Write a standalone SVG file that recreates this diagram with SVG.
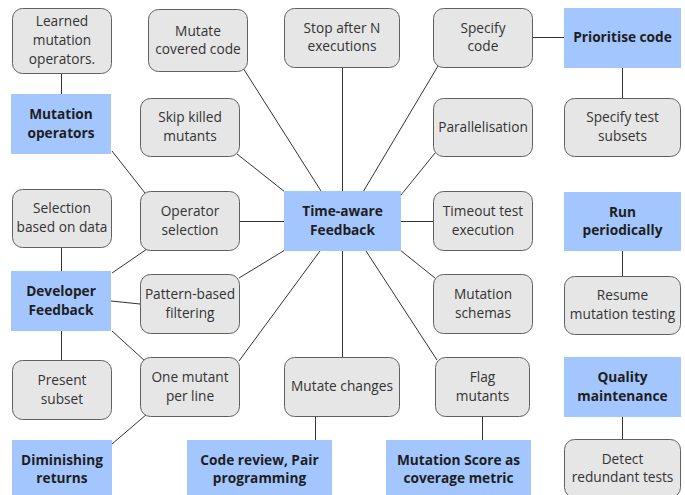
<svg xmlns="http://www.w3.org/2000/svg" width="685" height="495" viewBox="0 0 685 495">
<style>
.g rect{fill:#e6e6e6;stroke:#606060;stroke-width:1}
.b rect{fill:#a4c6ff;stroke:none}
text{font-family:"Open Sans","Noto Sans","Liberation Sans",sans-serif;font-size:13.7px;text-anchor:middle}
.g text{fill:#333}
.b text{fill:#1e1e1e;font-weight:bold}
#connectors line{stroke:#333;stroke-width:1}
</style>
<rect width="685" height="495" fill="#fff"/>
<g id="connectors">
<line x1="61.5" y1="73" x2="61.5" y2="94"/>
<line x1="112" y1="151" x2="145" y2="193"/>
<line x1="61.5" y1="247" x2="61.5" y2="271"/>
<line x1="112" y1="273" x2="147" y2="249"/>
<line x1="111" y1="301" x2="140" y2="304"/>
<line x1="112" y1="331" x2="145" y2="361"/>
<line x1="61.5" y1="331" x2="61.5" y2="360"/>
<line x1="147" y1="414" x2="112" y2="444"/>
<line x1="243" y1="68" x2="321" y2="191"/>
<line x1="237" y1="154" x2="285" y2="192"/>
<line x1="240" y1="221.5" x2="284" y2="221.5"/>
<line x1="239" y1="278" x2="285" y2="250"/>
<line x1="239" y1="361" x2="320" y2="251"/>
<line x1="342.5" y1="67" x2="342.5" y2="191"/>
<line x1="438" y1="66" x2="363" y2="192"/>
<line x1="435" y1="153" x2="401" y2="195"/>
<line x1="401" y1="221.5" x2="433" y2="221.5"/>
<line x1="400" y1="250" x2="435" y2="278"/>
<line x1="342.5" y1="251" x2="342.5" y2="357"/>
<line x1="366" y1="251" x2="437" y2="360"/>
<line x1="315.5" y1="416" x2="315.5" y2="440"/>
<line x1="482.5" y1="416" x2="482.5" y2="440"/>
<line x1="533" y1="37.5" x2="564" y2="37.5"/>
<line x1="622.5" y1="68" x2="622.5" y2="98"/>
<line x1="622.5" y1="251" x2="622.5" y2="276"/>
<line x1="622.5" y1="417" x2="622.5" y2="439"/>
</g>
<g id="learned" class="g"><rect x="12.5" y="8.5" width="99" height="65" rx="10"/><text x="62" y="26">Learned</text><text x="62" y="45">mutation</text><text x="62" y="64">operators.</text></g>
<g id="mutation-operators" class="b"><rect x="11" y="94" width="100" height="60"/><text x="61" y="119">Mutation</text><text x="61" y="138">operators</text></g>
<g id="mutate-covered" class="g"><rect x="148.5" y="9.5" width="99" height="62" rx="10"/><text x="198" y="35.5">Mutate</text><text x="198" y="54">covered code</text></g>
<g id="skip-killed" class="g"><rect x="140.5" y="98.5" width="99" height="58" rx="10"/><text x="190" y="122">Skip killed</text><text x="190" y="141">mutants</text></g>
<g id="selection-data" class="g"><rect x="12.5" y="189.5" width="99" height="58" rx="10"/><text x="62" y="213">Selection</text><text x="62" y="232">based on data</text></g>
<g id="operator-selection" class="g"><rect x="140.5" y="191.5" width="99" height="59" rx="10"/><text x="190" y="216">Operator</text><text x="190" y="235">selection</text></g>
<g id="developer-feedback" class="b"><rect x="11" y="271" width="100" height="60"/><text x="61" y="296">Developer</text><text x="61" y="315">Feedback</text></g>
<g id="pattern-filtering" class="g"><rect x="140.5" y="274.5" width="99" height="59" rx="10"/><text x="190" y="299">Pattern-based</text><text x="190" y="318">filtering</text></g>
<g id="present-subset" class="g"><rect x="12.5" y="360.5" width="99" height="59" rx="10"/><text x="62" y="385">Present</text><text x="62" y="404">subset</text></g>
<g id="one-mutant" class="g"><rect x="140.5" y="357.5" width="99" height="59" rx="10"/><text x="190" y="382">One mutant</text><text x="190" y="401">per line</text></g>
<g id="diminishing" class="b"><rect x="12" y="440" width="100" height="60"/><text x="62" y="465">Diminishing</text><text x="62" y="483">returns</text></g>
<g id="code-review" class="b"><rect x="187" y="440" width="145" height="60"/><text x="259.5" y="465">Code review, Pair</text><text x="259.5" y="483">programming</text></g>
<g id="stop-after" class="g"><rect x="284.5" y="8.5" width="115" height="59" rx="10"/><text x="342" y="33">Stop after N</text><text x="342" y="51">executions</text></g>
<g id="time-aware" class="b"><rect x="284" y="191" width="117" height="60"/><text x="342.5" y="216">Time-aware</text><text x="342.5" y="235">Feedback</text></g>
<g id="mutate-changes" class="g"><rect x="284.5" y="357.5" width="115" height="59" rx="10"/><text x="342" y="391">Mutate changes</text></g>
<g id="specify-code" class="g"><rect x="433.5" y="8.5" width="99" height="59" rx="10"/><text x="483" y="33">Specify</text><text x="483" y="51">code</text></g>
<g id="parallelisation" class="g"><rect x="433.5" y="98.5" width="99" height="58" rx="10"/><text x="483" y="132">Parallelisation</text></g>
<g id="timeout" class="g"><rect x="433.5" y="191.5" width="99" height="59" rx="10"/><text x="483" y="216">Timeout test</text><text x="483" y="235">execution</text></g>
<g id="schemas" class="g"><rect x="433.5" y="274.5" width="99" height="59" rx="10"/><text x="483" y="299">Mutation</text><text x="483" y="318">schemas</text></g>
<g id="flag-mutants" class="g"><rect x="435.5" y="357.5" width="94" height="59" rx="10"/><text x="482.5" y="382">Flag</text><text x="482.5" y="401">mutants</text></g>
<g id="mutation-score" class="b"><rect x="386" y="440" width="145" height="60"/><text x="458.5" y="465">Mutation Score as</text><text x="458.5" y="483">coverage metric</text></g>
<g id="prioritise" class="b"><rect x="564" y="8" width="117" height="60"/><text x="622.5" y="42">Prioritise code</text></g>
<g id="test-subsets" class="g"><rect x="564.5" y="98.5" width="116" height="58" rx="10"/><text x="622.5" y="122">Specify test</text><text x="622.5" y="141">subsets</text></g>
<g id="run-periodically" class="b"><rect x="564" y="192" width="117" height="59"/><text x="622.5" y="217">Run</text><text x="622.5" y="235">periodically</text></g>
<g id="resume" class="g"><rect x="564.5" y="276.5" width="116" height="58" rx="10"/><text x="622.5" y="300">Resume</text><text x="622.5" y="319">mutation testing</text></g>
<g id="quality" class="b"><rect x="564" y="357" width="117" height="60"/><text x="622.5" y="382">Quality</text><text x="622.5" y="401">maintenance</text></g>
<g id="redundant" class="g"><rect x="564.5" y="439.5" width="116" height="58" rx="10"/><text x="622.5" y="464">Detect</text><text x="622.5" y="482">redundant tests</text></g>
</svg>
